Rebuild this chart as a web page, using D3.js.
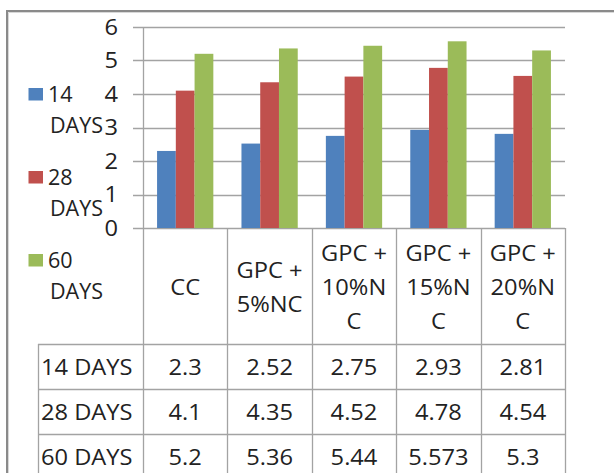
<!DOCTYPE html>
<html>
<head>
<meta charset="utf-8">
<script src="https://cdn.jsdelivr.net/npm/d3@7"></script>
<style>
  html, body { margin: 0; padding: 0; background: #fff; }
  svg { display: block; }
  text { font-family: "Open Sans", "Noto Sans", sans-serif; font-weight: 400; fill: #222; }
</style>
</head>
<body>
<svg id="chart" width="614" height="473"></svg>
<script>
// Compressive strength by mix and curing age
const categories = ["CC", "GPC + 5%NC", "GPC + 10%NC", "GPC + 15%NC", "GPC + 20%NC"];
const categoryLines = [["CC"], ["GPC +", "5%NC"], ["GPC +", "10%N", "C"], ["GPC +", "15%N", "C"], ["GPC +", "20%N", "C"]];
const seriesNames = ["14 DAYS", "28 DAYS", "60 DAYS"];
const seriesLegendLines = [["14", "DAYS"], ["28", "DAYS"], ["60", "DAYS"]];
const days14 = [2.3, 2.52, 2.75, 2.93, 2.81];
const days28 = [4.1, 4.35, 4.52, 4.78, 4.54];
const days60 = [5.2, 5.36, 5.44, 5.573, 5.3];
const tableLabels = [["2.3", "2.52", "2.75", "2.93", "2.81"],
                     ["4.1", "4.35", "4.52", "4.78", "4.54"],
                     ["5.2", "5.36", "5.44", "5.573", "5.3"]];
const yTicks = [0, 1, 2, 3, 4, 5, 6];
const colors = ["#4F81BD", "#C0504D", "#9BBB59"];

const seriesValues = [days14, days28, days60];

const svg = d3.select("#chart");
const lineColor = "#a3a3a3";
const fs = 21.5;  // label font size
const sx = 1.1;   // horizontal stretch applied to table and axis labels

// outer frame
svg.append("path")
  .attr("d", "M7,473 V11 H614")
  .attr("fill", "none")
  .attr("stroke", "#8a8a8a")
  .attr("stroke-width", 2);
svg.append("path")
  .attr("d", "M8.5,473 V12.5 H614")
  .attr("fill", "none")
  .attr("stroke", "#d8d8d8")
  .attr("stroke-width", 1);

const plotLeft = 143, plotRight = 565, plotTop = 27, plotBottom = 228;

const x = d3.scaleBand().domain(categories).range([plotLeft, plotRight]).padding(0);
const xs = d3.scaleBand().domain(seriesNames).range([0, x.bandwidth()])
  .paddingInner(0).paddingOuter(0.75);
const y = d3.scaleLinear().domain([0, 6]).range([plotBottom, plotTop]);

// gridlines with outside tick stubs
svg.append("g").selectAll("line").data(yTicks).join("line")
  .attr("x1", plotLeft - 10).attr("x2", plotRight)
  .attr("y1", d => Math.round(y(d)) + 0.5).attr("y2", d => Math.round(y(d)) + 0.5)
  .attr("stroke", lineColor).attr("stroke-width", 1.3);

// y tick labels
svg.append("g").selectAll("text").data(yTicks).join("text")
  .attr("text-anchor", "end")
  .attr("font-size", fs)
  .attr("transform", d => `translate(118,${y(d) + 7.6}) scale(${sx},1)`)
  .text(d => d);

// bars
const groups = svg.append("g").selectAll("g").data(seriesValues).join("g")
  .attr("fill", (d, i) => colors[i]);
groups.selectAll("rect")
  .data((vals, si) => vals.map((v, ci) => ({ v, ci, si })))
  .join("rect")
  .attr("x", d => x(categories[d.ci]) + xs(seriesNames[d.si]))
  .attr("width", xs.bandwidth())
  .attr("y", d => y(d.v))
  .attr("height", d => y(0) - y(d.v));

// data table
const headerBottom = 344, rowH = 45, tableLeft = 38;
const rowTops = seriesNames.map((s, i) => headerBottom + i * rowH);
const bounds = [plotLeft].concat(categories.map(c => x(c) + x.bandwidth()));

const grid = svg.append("g").attr("stroke", lineColor).attr("stroke-width", 1.3);
// vertical rules (axis line plus column separators)
grid.selectAll("line.v").data(bounds).join("line").attr("class", "v")
  .attr("x1", d => Math.round(d) + 0.5).attr("x2", d => Math.round(d) + 0.5)
  .attr("y1", (d, i) => i === 0 ? plotTop : plotBottom).attr("y2", 473);
grid.append("line")
  .attr("x1", tableLeft + 0.5).attr("x2", tableLeft + 0.5)
  .attr("y1", headerBottom).attr("y2", 473);
// horizontal rules
grid.selectAll("line.h").data(rowTops).join("line").attr("class", "h")
  .attr("x1", tableLeft).attr("x2", plotRight)
  .attr("y1", d => d + 0.5).attr("y2", d => d + 0.5);

// category header labels
const headerMid = 287, lineGap = 34;
categories.forEach((c, ci) => {
  const lines = categoryLines[ci];
  const cx = x(c) + x.bandwidth() / 2;
  lines.forEach((ln, li) => {
    const cy = headerMid + (li - (lines.length - 1) / 2) * lineGap;
    svg.append("text")
      .attr("text-anchor", "middle")
      .attr("font-size", fs)
      .attr("transform", `translate(${cx},${cy + 7.6}) scale(${sx},1)`)
      .text(ln);
  });
});

// row labels and values
seriesNames.forEach((s, si) => {
  const base = rowTops[si] + rowH / 2 + 8.4;
  svg.append("text")
    .attr("font-size", fs)
    .attr("transform", `translate(41,${base}) scale(${sx},1)`)
    .text(s);
  categories.forEach((c, ci) => {
    svg.append("text")
      .attr("text-anchor", "middle")
      .attr("font-size", fs)
      .attr("transform", `translate(${x(c) + x.bandwidth() / 2},${base}) scale(${sx},1)`)
      .text(tableLabels[si][ci]);
  });
});

// legend
const legendBase = [102, 185, 268];
seriesNames.forEach((s, si) => {
  const g = svg.append("g");
  g.append("rect")
    .attr("x", 28.5).attr("y", legendBase[si] - 14)
    .attr("width", 14.5).attr("height", 12.5)
    .attr("fill", colors[si]);
  seriesLegendLines[si].forEach((ln, li) => {
    g.append("text")
      .attr("font-size", fs)
      .attr("transform", `translate(${li === 0 ? 48 : 50},${legendBase[si] + li * 31})`)
      .text(ln);
  });
});
</script>
</body>
</html>
